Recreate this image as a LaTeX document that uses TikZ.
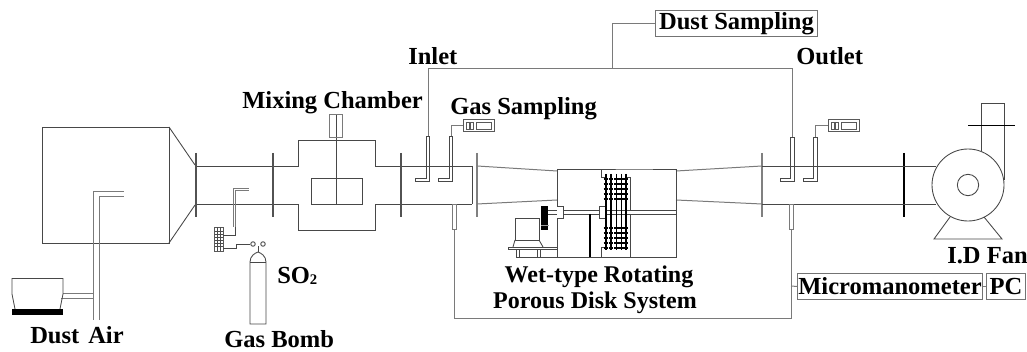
\documentclass[tikz,border=0pt]{standalone}
\usepackage{fontspec}
\setmainfont{Liberation Serif}
\tikzset{
  ln/.style={draw=black!72,line width=0.65pt},
  lg/.style={draw=black!52,line width=0.75pt},
  flange/.style={draw=black!68,line width=1.5pt},
  flangeb/.style={draw=black,line width=1.6pt},
  lbl/.style={anchor=base west,inner sep=0pt,font=\fontsize{18.4}{18}\bfseries\selectfont,text=black},
  boxed/.style={draw=black!55,line width=0.75pt,inner sep=0pt,font=\fontsize{18.4}{18}\bfseries\selectfont,text=black,anchor=north west,align=center},
  meter/.style={draw=black!65,line width=0.75pt,inner sep=0pt,minimum width=23.25pt,minimum height=9pt,anchor=north west},
}
\newcommand{\probe}[4]{% x1 x2 footleft bottom-style L-probe
  \draw[ln,fill=white] (#1,#3) -- (#1,178) -- (#4,178) -- (#4,181.5) -- (#2,181.5) -- (#2,#3) -- cycle;
}
\newcommand{\mtr}[2]{% inner glyphs of a sampling meter at x,y
  \draw[black!65,line width=0.6pt] (#1+3,#2+3) rectangle (#1+6,#2+10) (#1+7.5,#2+3) rectangle (#1+10.5,#2+10) (#1+13,#2+3) rectangle (#1+28,#2+10);
}
\begin{document}
\begin{tikzpicture}[x=0.75pt,y=-0.75pt]
\useasboundingbox (0,0) rectangle (1027,352);
% settling box
\draw[ln] (42,127) rectangle (169,243);
\draw[ln] (169,127) -- (195,165) (169,243) -- (195,205);
% dust feed
\draw[lg] (63,294) -- (93,294) (93,320) -- (93,191.5) -- (124,191.5);
\draw[lg] (99,320) -- (99,196.5) -- (124,196.5);
\draw[lg] (61,299) -- (93,299);
\draw[ln] (15,309) -- (12,294) -- (12,278.5) -- (63,278.5) -- (63,294) -- (60,309);
\fill[black] (12,309) rectangle (63,315.5);
% main duct
\draw[ln] (196,166) -- (298,166) -- (298,140) -- (375,140) -- (375,166) -- (472,166);
\draw[ln] (196,204.5) -- (298,204.5) -- (298,230) -- (375,230) -- (375,204.5) -- (472,204.5);
\draw[ln] (311,178) rectangle (362,204.5);
\draw[ln] (336.5,115) -- (336.5,204.5);
\draw[lg] (329.5,115) rectangle (342.5,138);
\draw[ln] (472,166) -- (472,204.5);
\draw[flange] (196,153) -- (196,217);
\draw[flange] (272.5,153) -- (272.5,217);
\draw[flange] (401,153) -- (401,217);
\draw[flange,black!50] (477,153) -- (477,217);
\draw[flange,black!50] (762,153) -- (762,217);
\draw[flangeb] (904,153) -- (904,217);
% contractions
\draw[lg] (477,166) -- (557,171) (477,204) -- (557,200) (676,171) -- (762,166) (676,200) -- (762,204);
% right duct
\draw[ln] (762,166.5) -- (936,166.5) (762,204.5) -- (936,204.5);
% probes
\probe{426.5}{429.5}{136}{415}
\probe{449.5}{452.5}{136}{438}
\probe{790}{794}{137}{780}
\probe{813.5}{817}{137}{803}
\draw[ln] (426.5,166) -- (429.5,166) (449.5,166) -- (452.5,166) (790,166.5) -- (794,166.5) (813.5,166.5) -- (817,166.5);
\draw[lg,fill=white] (452.5,204.5) rectangle (456,230);
\draw[lg,fill=white] (789.5,204.5) rectangle (793,230);
% rotating disk housing
\draw[ln] (557,169) -- (601,169) -- (601,177) -- (606,177);
\draw[ln] (601,169) -- (630,169) -- (676,169) -- (676,257) -- (516,257);
\draw[ln] (557,169) -- (557,257);
\draw[ln] (627,177) -- (630,177) -- (630,210) (630,214) -- (630,257);
\draw[ln] (601,257) -- (601,247) -- (606,247);
\draw[ln] (543,210) -- (676,210) (543,214) -- (676,214);
\draw[ln,fill=white] (557,206) -- (563,206) -- (563,218) -- (557,218);
\draw[ln,fill=white] (605,206) -- (599,206) -- (599,218) -- (605,218);
\draw[black,line width=1.5pt] (590,214) -- (590,257);
\foreach \dx in {606,611,616.5,621.5,626}{
  \draw[black,line width=1.3pt] (\dx,174) -- (\dx,250);
  \foreach \dy in {179,184,189,194,199,228,233,238,243,248}
    \draw[black,line width=1.1pt] (\dx-2.3,\dy) -- (\dx+2.3,\dy);
}
\fill[black] (541,206) rectangle (548,230);
\draw[black!40,line width=0.6pt] (541,225) -- (549,225);
% motor
\draw[ln] (515,218) rectangle (539,240);
\draw[ln] (515,240) -- (513,247) (539,240) -- (543,247);
\draw[ln] (508,247) rectangle (557,249.5);
\draw[ln] (516,249.5) -- (516,257) (519,249.5) -- (519,257) (537,249.5) -- (537,257) (540,249.5) -- (540,257);
% fan
\draw[ln] (981,151) -- (981,103) -- (1004,103) -- (1004,180);
\draw[ln,fill=white] (968,185) circle[radius=27pt];
\draw[ln] (968,185) circle[radius=8pt];
\draw[ln] (950,217) -- (934,239) -- (1002,239) -- (984,217);
\draw[black,line width=1.4pt] (968,125.5) -- (1015,125.5);
% gas injection
\draw[lg] (233,227) -- (233,188.5) -- (249,188.5);
\draw[lg] (235.5,227) -- (235.5,191) -- (249,191);
\draw[black!65,line width=0.7pt,fill=white] (214.5,227.5) rectangle (223,251);
\foreach \gy in {231,234,237,240,243,246} \draw[black!70,line width=0.6pt] (214.5,\gy) -- (223,\gy);
\draw[black!70,line width=0.6pt] (217.5,227.5) -- (217.5,251) (220,227.5) -- (220,251);
\draw[ln] (223,235) -- (235,235) -- (235,227);
\draw[ln] (223,248) -- (236,248) -- (236,244) -- (250,244);
\draw[ln] (250,324) -- (250,262) .. controls (250,256) and (255,253) .. (258,252) .. controls (261,253) and (266,256) .. (266,262) -- (266,324) -- cycle;
\draw[ln] (250,262) -- (266,262);
\draw[ln] (258,252) -- (258,246);
\draw[ln] (253,244) circle[radius=1.7pt] (263,244) circle[radius=1.7pt];
% labelled instruments
\node[boxed,minimum width=121.5pt,minimum height=19.5pt] (dust) at (655,10) {Dust Sampling};
\node[boxed,minimum width=138.75pt,minimum height=19.5pt] (micro) at (797,273) {Micromanometer};
\node[boxed,minimum width=29.25pt,minimum height=19.5pt] (pc) at (986,273) {PC};
\node[meter] (m1) at (463,119) {};
\node[meter] (m2) at (828,119) {};
\mtr{463}{119}
\mtr{828}{119}
\coordinate (hd) at (428,68.5);
\coordinate (hr) at (792,68.5);
\coordinate (hc) at (612,68.5);
\coordinate (lo) at (454.5,230);
\coordinate (ro) at (791,230);
\coordinate (cb) at (791,318.5);
\coordinate (p1) at (451,136);
\coordinate (p2) at (815,137);
\draw[lg] (428,136) -- (hd) -- (hr) -- (792,137);
\draw[lg] (hc) -- (hc |- dust.west) -- (dust.west);
\draw[lg] (lo) -- (454.5,318.5) -- (cb) -- (ro);
\draw[lg] (791,286) -- (micro.west);
\draw[lg] (micro.east) -- (pc.west);
\draw[lg] (p1) -- (p1 |- m1.west) -- (m1.west);
\draw[lg] (p2) -- (p2 |- m2.west) -- (m2.west);
% labels
\node[lbl] (tdust) at (30,344) {Dust};
\node[lbl] (tair) at (88,344) {Air};
\node[lbl] (tbomb) at (224,348) {Gas Bomb};
\node[lbl] (tso) at (277,284) {SO\raisebox{-0.5pt}{\fontsize{11}{11}\bfseries\selectfont 2}};
\node[lbl] (tmix) at (242,108.5) {Mixing Chamber};
\node[lbl] (tin) at (408,64.5) {Inlet};
\node[lbl] (tgas) at (450,114.5) {Gas Sampling};
\node[lbl] (tout) at (796,64.5) {Outlet};
\node[lbl] (tfan) at (947,264) {I.D Fan};
\node[lbl,anchor=base,font=\fontsize{18}{18}\bfseries\selectfont] (twet) at (599,283) {Wet-type Rotating};
\node[lbl,anchor=base,font=\fontsize{18}{18}\bfseries\selectfont] (tpor) at (595,309) {Porous Disk System};
\end{tikzpicture}
\end{document}
